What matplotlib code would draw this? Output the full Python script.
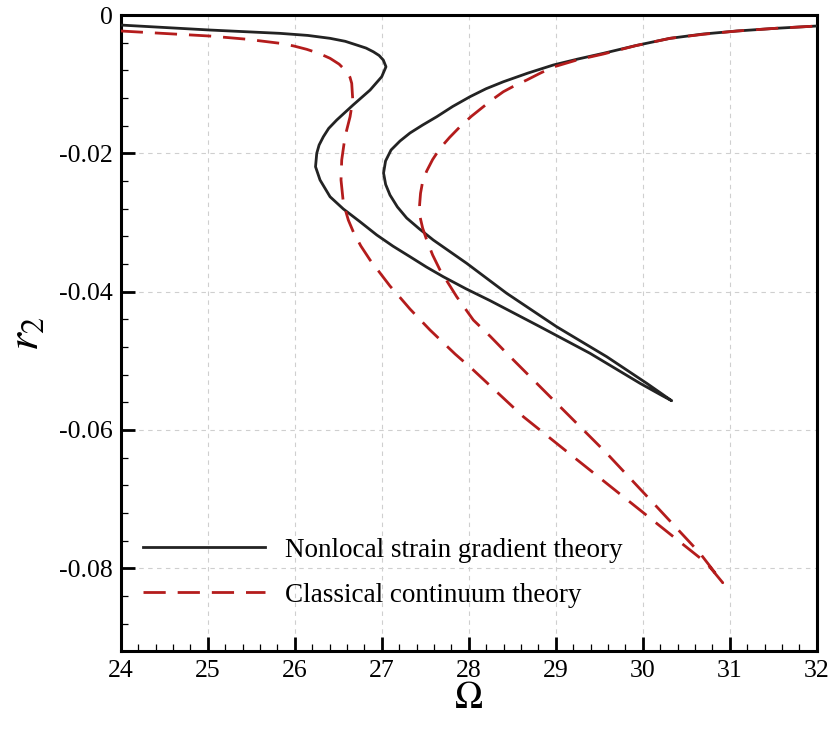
import matplotlib
matplotlib.use("Agg")
import matplotlib.pyplot as plt
from matplotlib.ticker import MultipleLocator

plt.rcParams["font.family"] = ["Liberation Serif", "DejaVu Serif"]
plt.rcParams["mathtext.fontset"] = "stix"

# Frequency response (Omega, r2): nonlocal strain gradient theory
nsg_points = [
    (24.0, -0.00145), (25.026, -0.00217), (25.831, -0.00265), (26.15, -0.00295),
    (26.406, -0.00337), (26.58, -0.0038), (26.713, -0.00434), (26.82, -0.00478),
    (26.903, -0.00531), (26.97, -0.00585), (27.018, -0.00651), (27.049, -0.00748),
    (27.0, -0.00892), (26.866, -0.01085), (26.67, -0.01302), (26.483, -0.01518),
    (26.39, -0.0164), (26.329, -0.0176), (26.28, -0.0188), (26.253, -0.02),
    (26.239, -0.02194), (26.291, -0.02386), (26.406, -0.02628), (26.559, -0.02805),
    (26.75, -0.02989), (26.943, -0.03181), (27.13, -0.03343), (27.325, -0.03495),
    (27.515, -0.03645), (27.708, -0.03785), (27.97, -0.0396), (28.245, -0.0413),
    (28.82, -0.04508), (29.394, -0.04892), (29.969, -0.05326), (30.222, -0.05503),
    (30.333, -0.05578), (30.046, -0.05326), (29.586, -0.04941), (29.011, -0.04508),
    (28.437, -0.04025), (27.977, -0.03591), (27.593, -0.03254), (27.43, -0.0309),
    (27.287, -0.02936), (27.18, -0.02775), (27.095, -0.02603), (27.045, -0.0245),
    (27.021, -0.02285), (27.044, -0.02111), (27.107, -0.01952), (27.21, -0.01822),
    (27.325, -0.01706), (27.47, -0.01591), (27.632, -0.01471), (27.815, -0.01323),
    (28.015, -0.01181), (28.199, -0.01066), (28.398, -0.00965), (28.682, -0.00839),
    (28.972, -0.00723), (29.256, -0.00636), (29.547, -0.00554), (29.923, -0.00441),
    (30.314, -0.00337), (30.693, -0.00275), (31.084, -0.00231), (31.53, -0.00192),
    (32.0, -0.00159),
]

# Frequency response (Omega, r2): classical continuum theory
cct_points = [
    (24.0, -0.00231), (25.026, -0.00304), (25.45, -0.0035), (25.831, -0.00409),
    (25.99, -0.00448), (26.138, -0.00496), (26.28, -0.00555), (26.406, -0.00626),
    (26.51, -0.0071), (26.598, -0.0082), (26.635, -0.009), (26.655, -0.00988),
    (26.667, -0.01229), (26.636, -0.01471), (26.578, -0.0176), (26.54, -0.02097),
    (26.532, -0.02386), (26.559, -0.02719), (26.616, -0.02965), (26.674, -0.03138),
    (26.76, -0.0334), (26.866, -0.03543), (26.98, -0.0373), (27.095, -0.03919),
    (27.21, -0.04084), (27.325, -0.04252), (27.44, -0.04404), (27.555, -0.04555),
    (27.843, -0.04902), (28.053, -0.05134), (28.34, -0.05471), (28.628, -0.05809),
    (29.202, -0.06388), (29.777, -0.06966), (30.352, -0.07544), (30.736, -0.07929),
    (30.92, -0.0821), (30.659, -0.07785), (30.161, -0.07111), (29.586, -0.06338),
    (29.011, -0.05615), (28.437, -0.04892), (28.25, -0.0465), (28.053, -0.04411),
    (27.862, -0.04074), (27.67, -0.03688), (27.585, -0.0347), (27.517, -0.03254),
    (27.47, -0.0308), (27.44, -0.02917), (27.435, -0.0275), (27.446, -0.02578),
    (27.47, -0.0241), (27.517, -0.02256), (27.585, -0.0209), (27.67, -0.01928),
    (27.78, -0.0177), (27.9, -0.01615), (28.03, -0.01465), (28.168, -0.01326),
    (28.28, -0.01215), (28.398, -0.01109), (28.53, -0.0102), (28.667, -0.0094),
    (28.82, -0.00842), (28.972, -0.00752), (29.25, -0.00648), (29.547, -0.00564),
    (29.92, -0.00443), (30.314, -0.00337), (30.7, -0.00278), (31.084, -0.00231),
    (31.53, -0.00192), (32.0, -0.00159),
]

x_ticks = [24, 25, 26, 27, 28, 29, 30, 31, 32]
y_ticks = [0, -0.02, -0.04, -0.06, -0.08]
y_tick_labels = ["0", "-0.02", "-0.04", "-0.06", "-0.08"]

omega_nsg, r2_nsg = zip(*nsg_points)
omega_cct, r2_cct = zip(*cct_points)

fig = plt.figure(figsize=(8.35, 7.33), dpi=100)
ax = fig.add_axes([0.1446, 0.1116, 0.8335, 0.8679])

ax.plot(omega_nsg, r2_nsg, color="#232323", lw=2.0, solid_joinstyle="round",
        label="Nonlocal strain gradient theory", zorder=3)
ax.plot(omega_cct, r2_cct, color="#b41c1c", lw=2.0, dashes=(8, 4.3),
        label="Classical continuum theory", zorder=3)

ax.set_xlim(24, 32)
ax.set_ylim(-0.092, 0)
ax.set_xticks(x_ticks)
ax.set_yticks(y_ticks)
ax.set_yticklabels(y_tick_labels)
ax.xaxis.set_minor_locator(MultipleLocator(0.2))
ax.yaxis.set_minor_locator(MultipleLocator(0.004))
ax.tick_params(which="both", direction="in", top=False, right=False, labelsize=18.5)
ax.tick_params(which="major", length=10, width=2.0, pad=6)
ax.tick_params(which="minor", length=5, width=0.9)
ax.grid(True, which="major", color="#cfcfcf", ls=(0, (4, 4)), lw=0.8)
for s in ax.spines.values():
    s.set_linewidth(2.2)

ax.set_xlabel(r"$\Omega$", fontsize=27, labelpad=0)
ax.set_ylabel(r"$r_2$", fontsize=33, labelpad=8)

ax.legend(loc="upper left", bbox_to_anchor=(0.032, 0.178), frameon=False,
          borderpad=0, borderaxespad=0, fontsize=19.5, handlelength=4.5,
          handletextpad=0.75, labelspacing=0.73)

fig.savefig("out.png", dpi=100)
